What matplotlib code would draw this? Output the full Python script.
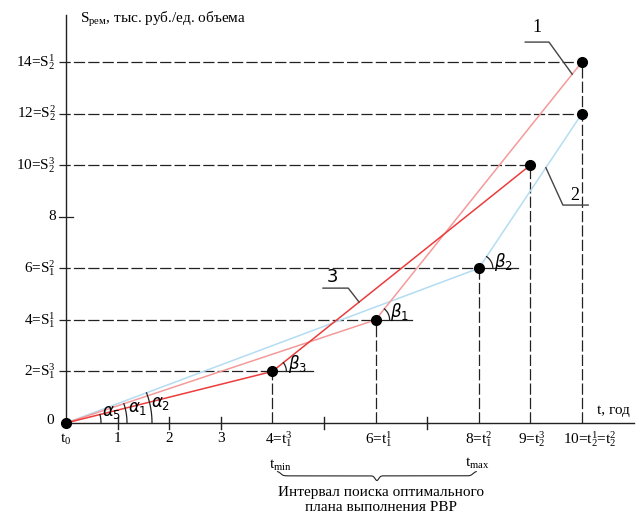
import numpy as np
import matplotlib
matplotlib.use("Agg")
import matplotlib.pyplot as plt

plt.rcParams['font.family'] = ['Liberation Serif', 'DejaVu Serif']
plt.rcParams['mathtext.fontset'] = 'custom'
plt.rcParams['mathtext.rm'] = 'Liberation Serif'
plt.rcParams['mathtext.it'] = 'Liberation Serif:italic'

# Ломані (t, S)
line1_t = [0, 6, 10]
line1_s = [0, 4, 14]
line2_t = [0, 8, 10]
line2_s = [0, 6, 12]
line3_t = [0, 4, 9]
line3_s = [0, 2, 10]

# підписи осей
y_levels = [2, 4, 6, 8, 10, 12, 14]
y_labels = ['2=S$_1^3$', '4=S$_1^1$', '6=S$_1^2$', '8', '10=S$_2^3$', '12=S$_2^2$', '14=S$_2^1$']
x_ticks = [1, 2, 3, 5, 7]
x_label_pos = [0, 1, 2, 3, 4, 6, 8, 9, 10]
x_labels = ['t$_0$', '1', '2', '3', '4=t$_1^3$', '6=t$_1^1$', '8=t$_1^2$', '9=t$_2^3$', '10=t$_2^1$=t$_2^2$']

col1 = '#f59a9a'
col2 = '#b4dcf2'
col3 = '#ec3c3c'
dark = '#222222'

fig = plt.figure(figsize=(6.44, 5.13), dpi=100)
ax = fig.add_axes([0, 0, 1, 1])
xmin, xmax = -66 / 51.6, (644 - 66) / 51.6
ymin, ymax = -90 / 25.79, 423 / 25.79
ax.set_xlim(xmin, xmax)
ax.set_ylim(ymin, ymax)
ax.axis('off')
sx = 644 / (xmax - xmin)   # px per unit
sy = 513 / (ymax - ymin)

# осі
ax.plot([0, 0], [0, 15.82], color=dark, lw=1)
ax.plot([0, 11.0], [0, 0], color=dark, lw=1)
for t in x_ticks:
    ax.plot([t, t], [-0.25, 0.25], color=dark, lw=1)

dash = dict(color=dark, lw=0.9, dashes=(9, 2.5))
solid = dict(color=dark, lw=0.9)

# горизонтальні рівні
ax.plot([-0.135, 0.14], [8, 8], **solid)
h_ends = {14: (10, 10), 12: (10, 10), 10: (9, 9), 6: (8, 8.76), 4: (6, 6.7), 2: (4, 4.78)}
for lev, (knee, end) in h_ends.items():
    ax.plot([-0.135, knee], [lev, lev], **dash)
    if end > knee:
        ax.plot([knee, end], [lev, lev], **solid)

# вертикальні
pts_t = [4, 6, 8, 9, 10]
pts_s = [2, 4, 6, 10, 14]
for t, s in zip(pts_t, pts_s):
    ax.plot([t, t], [0, s], **dash)

# ломані
ax.plot(line2_t, line2_s, color=col2, lw=1.1)
ax.plot(line1_t, line1_s, color=col1, lw=1.1)
ax.plot(line3_t, line3_s, color=col3, lw=1.1)

dot_t = [0, 4, 6, 8, 9, 10, 10]
dot_s = [0, 2, 4, 6, 10, 12, 14]
ax.plot(dot_t, dot_s, 'o', color='black', ms=7, zorder=5)


def seg_angle(t, s, i):
    return np.degrees(np.arctan2((s[i + 1] - s[i]) * sy, (t[i + 1] - t[i]) * sx))


def arc(x0, y0, r, a0, a1):
    a = np.radians(np.linspace(a0, a1, 30))
    ax.plot(x0 + r * np.cos(a) / sx, y0 + r * np.sin(a) / sy, color=dark, lw=0.9)


# кути alpha
arc(0, 0, 35, 0, seg_angle(line3_t, line3_s, 0))
arc(0, 0, 61, 0, seg_angle(line1_t, line1_s, 0))
arc(0, 0, 86, 0, seg_angle(line2_t, line2_s, 0))
gk = dict(math_fontfamily='dejavusans', fontsize=12, ha='center', va='center')
ax.text(0.89, 0.42, r'$\alpha_5$', **gk)
ax.text(1.38, 0.58, r'$\alpha_1$', **gk)
ax.text(1.84, 0.76, r'$\alpha_2$', **gk)

# кути beta
arc(4, 2, 14, 0, seg_angle(line3_t, line3_s, 1))
arc(6, 4, 14, 0, seg_angle(line1_t, line1_s, 1))
arc(8, 6, 14, 0, seg_angle(line2_t, line2_s, 1))
ax.text(4.48, 2.28, r'$\beta_3$', **gk)
ax.text(6.46, 4.30, r'$\beta_1$', **gk)
ax.text(8.48, 6.25, r'$\beta_2$', **gk)

# виноски 1, 2, 3
lead = dict(color='#444444', lw=1)
t1 = 9.81
ax.plot([8.90, 9.36, t1], [14.77, 14.77, np.interp(t1, line1_t, line1_s)], **lead)
ax.text(9.13, 15.0, '1', fontsize=13, ha='center', va='bottom')
t2 = 9.30
ax.plot([t2, 9.63, 10.12], [np.interp(t2, line2_t, line2_s), 8.45, 8.45], **lead)
ax.text(9.86, 8.5, '2', fontsize=13, ha='center', va='bottom')
t3 = 5.68
ax.plot([4.98, 5.47, t3], [5.23, 5.23, np.interp(t3, line3_t, line3_s)], **lead)
ax.text(5.17, 5.3, '3', fontsize=13, ha='center', va='bottom', family='DejaVu Sans')

# підписи
fs = 11
for lev, lab in zip(y_levels, y_labels):
    ax.text(-0.2, lev, lab, fontsize=fs, ha='right', va='center')
ax.text(-0.23, 0.08, '0', fontsize=fs, ha='right', va='center')
x_shift = [0, 0, 0, 0, 0.12, 0.05, 0, 0.02, 0.15]
for t, lab, d in zip(x_label_pos, x_labels, x_shift):
    ax.text(t + d, -0.62, lab, fontsize=fs, ha='center', va='center')

ax.text(0.27, 15.63, 'S$_{\\mathrm{рем}}$, тыс. руб./ед. объема', fontsize=fs, ha='left', va='center')
ax.text(10.3, 0.5, 't, год', fontsize=fs, ha='left', va='center')

ax.text(4.15, -1.65, 't$_{\\mathrm{min}}$', fontsize=fs, ha='center', va='center')
ax.text(7.98, -1.58, 't$_{\\mathrm{max}}$', fontsize=fs, ha='center', va='center')

# фігурна дужка
bx = np.linspace(4.1, 7.95, 400)
mid = (bx[0] + bx[-1]) / 2
k = 40
yb = -2.05 - 0.18 * (1 / (1 + np.exp(-k * (bx - bx[0] - 0.06)))) \
     + 0.18 * (1 / (1 + np.exp(-k * (bx - bx[-1] + 0.06)))) \
     - 0.18 * np.exp(-((bx - mid) / 0.05) ** 2)
ax.plot(bx, yb + 0.18, color=dark, lw=0.8)

ax.text(6.1, -2.98, 'Интервал поиска оптимального\nплана выполнения РВР',
        fontsize=fs, ha='center', va='center', linespacing=1.15)

fig.savefig('out.png', dpi=100)
